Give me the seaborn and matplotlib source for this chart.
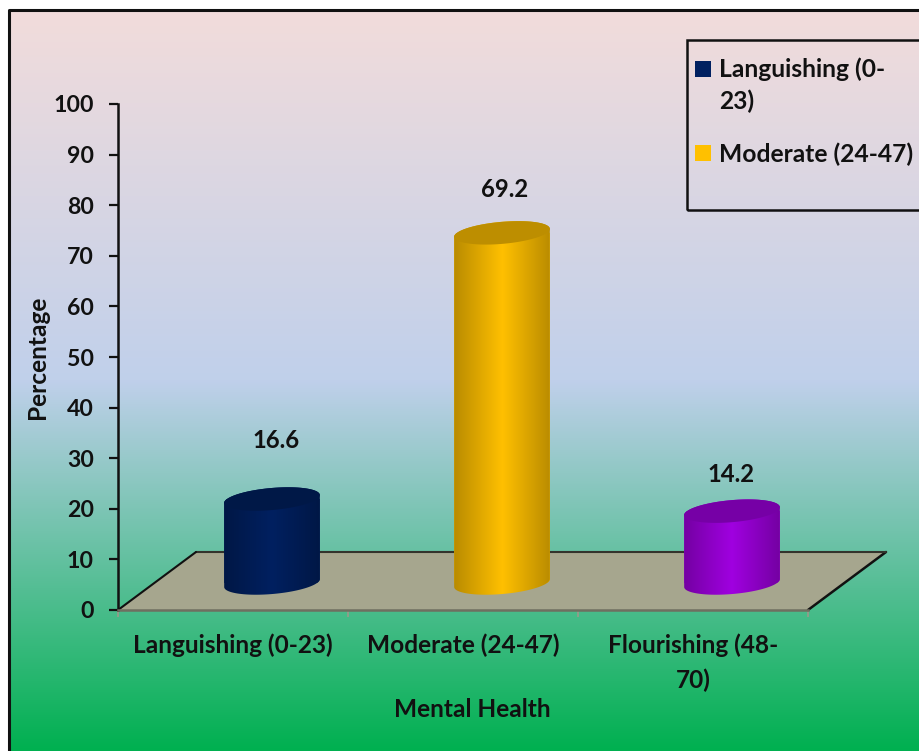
import numpy as np
import pandas as pd
import matplotlib
matplotlib.use("Agg")
import matplotlib.pyplot as plt
import seaborn as sns
from matplotlib.patches import Polygon, PathPatch, Rectangle
from matplotlib.path import Path
from matplotlib.transforms import Affine2D, IdentityTransform

categories = ["Languishing (0-23)", "Moderate (24-47)", "Flourishing (48-\n70)"]
percentages = [16.6, 69.2, 14.2]
bar_colors = ["#002060", "#FFC000", "#A000E0"]
y_ticks = list(range(0, 101, 10))
legend_labels = ["Languishing (0-\n23)", "Moderate (24-47)"]

W, H = 920, 751
DEPTH = (78, 58)          # floor depth in pixels
RX, RY, TILT = 48, 11, np.deg2rad(5)

sns.set_theme(style="white")
plt.rcParams["font.family"] = ["Lato", "DejaVu Sans"]
plt.rcParams["font.weight"] = "bold"
TEXT = "#111111"

fig = plt.figure(figsize=(W / 100, H / 100), dpi=100, facecolor="white")

# Vertical page gradient inside the outer frame
bg = fig.add_axes([10 / W, 0, (W - 10) / W, (H - 10) / H], zorder=0)
stops = np.array([(242, 220, 219), (192, 208, 235), (0, 176, 80)], float) / 255
rows = np.linspace(0, 1, 400)
grad = np.stack([np.interp(rows, [0, 0.5, 1], stops[:, c]) for c in range(3)], axis=1)
bg.imshow(grad[:, None, :], aspect="auto", interpolation="bilinear")
bg.axis("off")
fig.add_artist(plt.Line2D([9.5 / W, 9.5 / W, 1], [0, (H - 9.5) / H, (H - 9.5) / H],
                          color="#111111", lw=2.2, transform=fig.transFigure))

ax = fig.add_axes([118 / W, (H - 610) / H, 690 / W, 506 / H], zorder=1)
ax.patch.set_alpha(0)

frame = pd.DataFrame({"category": categories, "percentage": percentages})
sns.barplot(data=frame, x="category", y="percentage", hue="category",
            palette=bar_colors, width=96 / 230, legend=False, ax=ax, zorder=3,
            linewidth=0, saturation=1)
ax.set_xlim(-0.5, 2.5)
ax.set_ylim(0, 100)
ax.set_autoscale_on(False)

ax.set_yticks(y_ticks)
ax.set_xlabel("Mental Health", fontsize=17.6, fontweight="bold", color=TEXT)
ax.xaxis.set_label_coords(0.514, -0.174)
ax.set_ylabel("Percentage", fontsize=17.6, fontweight="bold", color=TEXT)
ax.yaxis.set_label_coords(-0.100, 0.5)
ax.tick_params(axis="y", left=True, length=6.5, width=1.6, color="#111111", pad=11,
               labelsize=16.7, labelcolor=TEXT)
ax.tick_params(axis="x", bottom=True, length=4, width=1, color="#9a9a8a", pad=13,
               labelsize=17.6, labelcolor=TEXT)
for lab in ax.get_xticklabels():
    lab.set_linespacing(1.6)
ax.set_xticks([-0.5, 0.5, 1.5, 2.5], minor=True)
ax.tick_params(axis="x", which="major", bottom=False)
ax.tick_params(axis="x", which="minor", bottom=True, length=5, width=1.2, color="#9a9a8a")
for name in ("top", "right"):
    ax.spines[name].set_visible(False)
ax.spines["left"].set_color("#111111")
ax.spines["left"].set_linewidth(1.8)
ax.spines["bottom"].set_color("#6f6f60")
ax.spines["bottom"].set_linewidth(1.8)

fig.canvas.draw()
to_px = ax.transData

# Floor of the pseudo-3D plot
x0, y0 = to_px.transform((-0.5, 0))
x1, _ = to_px.transform((2.5, 0))
floor = [(x0, y0), (x1, y0), (x1 + DEPTH[0], y0 + DEPTH[1]), (x0 + DEPTH[0], y0 + DEPTH[1])]
ax.add_patch(Polygon(floor, closed=True, transform=IdentityTransform(), facecolor="#A6A68E",
                     edgecolor="none", clip_on=False, zorder=1))
for a, b, col, lw in [(floor[1], floor[2], "#111111", 1.8),
                      (floor[2], floor[3], "#33332c", 1.5),
                      (floor[3], floor[0], "#111111", 1.5)]:
    ax.plot([a[0], b[0]], [a[1], b[1]], color=col, lw=lw, transform=IdentityTransform(),
            clip_on=False, zorder=2)

# Legend entries use the first two bars
handles = list(ax.patches[:2])
leg = ax.legend(handles, legend_labels, loc="upper left", bbox_to_anchor=(695 / W, (H - 57) / H),
                bbox_transform=fig.transFigure, frameon=False, fontsize=17.7, borderpad=0,
                borderaxespad=0, handlelength=0.65, handleheight=0.65, handletextpad=0.32,
                labelspacing=1.2, labelcolor=TEXT)
for t in leg.get_texts():
    t.set_linespacing(1.45)
# The swatch of the two-line entry sits level with its first line
swatch = leg.legend_handles[0]
swatch.set_y(swatch.get_y() + 12)
fig.add_artist(Rectangle((687 / W, (H - 210) / H), (W + 10 - 687) / W, 170 / H,
                         transform=fig.transFigure, fill=False, edgecolor="#111111", lw=1.8))


def ellipse_points(cx, cy, t):
    px = cx + RX * np.cos(t) * np.cos(TILT) - RY * np.sin(t) * np.sin(TILT)
    py = cy + RX * np.cos(t) * np.sin(TILT) + RY * np.sin(t) * np.cos(TILT)
    return np.column_stack([px, py])


def shaded(base, edge_mix):
    base = np.array(matplotlib.colors.to_rgb(base))
    edge = base * edge_mix
    pos = np.linspace(0, 1, 200)
    return np.stack([np.interp(pos, [0, 0.5, 1], [edge[c], base[c], edge[c]]) for c in range(3)],
                    axis=1)[None, :, :]


# Each seaborn bar is shifted to mid-depth and dressed as a cylinder
offset = Affine2D().translate(DEPTH[0] / 2, DEPTH[1] / 2 - 2)
label_nudge = [(4, 59), (3, 43), (-1, 37)]
for bar, color, value, nudge in zip(ax.patches[:3], bar_colors, percentages, label_nudge):
    xc = bar.get_x() + bar.get_width() / 2
    bar.set_transform(ax.transData + offset)
    bx, by = (ax.transData + offset).transform((xc, 0))
    tx, ty = (ax.transData + offset).transform((xc, bar.get_height()))
    body = np.vstack([ellipse_points(bx, by, np.linspace(np.pi, 2 * np.pi, 60)),
                      ellipse_points(tx, ty, np.linspace(0, np.pi, 60))])
    body_path = Path(np.vstack([body, body[0]]), closed=True)
    bar.set_clip_path(PathPatch(body_path, transform=IdentityTransform()))
    im = ax.imshow(shaded(color, 0.72), aspect="auto", interpolation="bilinear",
                   extent=(bx - RX - 1, bx + RX + 1, by - RY - 10, ty + RY + 10),
                   transform=IdentityTransform(), zorder=4)
    im.set_clip_path(PathPatch(body_path, transform=IdentityTransform()))
    top = ellipse_points(tx, ty, np.linspace(0, 2 * np.pi, 120))
    ax.add_patch(Polygon(top, closed=True, transform=IdentityTransform(),
                         facecolor=np.array(matplotlib.colors.to_rgb(color)) * 0.74,
                         edgecolor="none", zorder=5))
    ax.text(tx + nudge[0], ty + nudge[1], f"{value:.1f}", transform=IdentityTransform(),
            ha="center", va="center", fontsize=17.2, fontweight="bold", color=TEXT, zorder=6)

ax.set_xlim(-0.5, 2.5)
ax.set_ylim(0, 100)
fig.savefig("out.png", dpi=100, facecolor="white")
